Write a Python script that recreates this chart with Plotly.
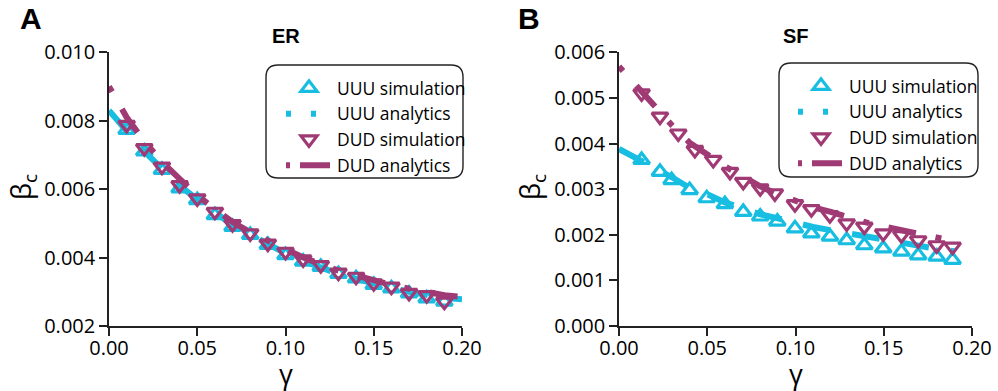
import plotly.graph_objects as go

# ---------------- data ----------------
# Panel A (ER)
gamma_sim_A = [0.01, 0.02, 0.03, 0.04, 0.05, 0.06, 0.07, 0.08, 0.09, 0.10,
               0.11, 0.12, 0.13, 0.14, 0.15, 0.16, 0.17, 0.18, 0.19]
uuu_sim_A = [0.00773, 0.00710, 0.00656, 0.00602, 0.00568, 0.00524, 0.00490, 0.00466, 0.00437, 0.00407,
             0.00388, 0.00373, 0.00352, 0.00339, 0.00320, 0.00310, 0.00295, 0.00281, 0.00271]
dud_sim_A = [0.00788, 0.00720, 0.00666, 0.00612, 0.00573, 0.00534, 0.00498, 0.00471, 0.00441, 0.00417,
             0.00395, 0.00378, 0.00356, 0.00344, 0.00325, 0.00315, 0.00297, 0.00290, 0.00271]
gamma_ana_A = [0.00, 0.01, 0.02, 0.03, 0.04, 0.05, 0.06, 0.07, 0.08, 0.09, 0.10,
               0.11, 0.12, 0.13, 0.14, 0.15, 0.16, 0.17, 0.18, 0.19, 0.20]
uuu_ana_A = [0.00830, 0.00770, 0.00710, 0.00660, 0.00610, 0.00570, 0.00530, 0.00495, 0.00468, 0.00440, 0.00412,
             0.00390, 0.00370, 0.00352, 0.00338, 0.00323, 0.00311, 0.00300, 0.00290, 0.00282, 0.00278]
dud_ana_A = [0.00900, 0.00810, 0.00740, 0.00680, 0.00630, 0.00582, 0.00542, 0.00504, 0.00474, 0.00448, 0.00422,
             0.00400, 0.00381, 0.00362, 0.00348, 0.00332, 0.00320, 0.00309, 0.00298, 0.00290, 0.00285]

# Panel B (SF)
gamma_uuu_B = [0.0128, 0.0232, 0.0298, 0.040, 0.0497, 0.060, 0.0704, 0.080, 0.0897, 0.0997,
               0.109, 0.1195, 0.129, 0.139, 0.1497, 0.160, 0.1695, 0.180, 0.189]
uuu_sim_B = [0.00364, 0.00338, 0.00320, 0.00298, 0.00280, 0.00267, 0.00250, 0.00240, 0.00229, 0.00214,
             0.00203, 0.00196, 0.00188, 0.00177, 0.00170, 0.00163, 0.00155, 0.00152, 0.00145]
gamma_dud_B = [0.0128, 0.0232, 0.0336, 0.043, 0.0534, 0.0629, 0.0704, 0.080, 0.0883, 0.0997,
               0.109, 0.1195, 0.129, 0.139, 0.1497, 0.160, 0.1695, 0.180, 0.189]
dud_sim_B = [0.00510, 0.00459, 0.00422, 0.00386, 0.00364, 0.00338, 0.00316, 0.00302, 0.00291, 0.00267,
             0.00256, 0.00243, 0.00225, 0.00218, 0.00203, 0.00199, 0.00188, 0.00177, 0.00174]
gamma_ana_B = [0.00, 0.01, 0.02, 0.03, 0.04, 0.05, 0.06, 0.07, 0.08, 0.09, 0.10,
               0.11, 0.12, 0.13, 0.14, 0.15, 0.16, 0.17, 0.18, 0.19]
uuu_ana_B = [0.00388, 0.00368, 0.00348, 0.00326, 0.00303, 0.00289, 0.00271, 0.00257, 0.00245, 0.00236, 0.00226,
             0.00217, 0.00210, 0.00203, 0.00194, 0.00187, 0.00180, 0.00174, 0.00169, 0.00164]
dud_ana_B = [0.00569, 0.00525, 0.00480, 0.00440, 0.00402, 0.00375, 0.00350, 0.00328, 0.00306, 0.00289, 0.00274,
             0.00260, 0.00250, 0.00238, 0.00227, 0.00218, 0.00209, 0.00202, 0.00194, 0.00187]

series_names = ["UUU simulation", "UUU analytics", "DUD simulation", "DUD analytics"]
panel_titles = ["ER", "SF"]
panel_letters = ["A", "B"]
x_ticks = [0.00, 0.05, 0.10, 0.15, 0.20]
y_ticks_A = [0.002, 0.004, 0.006, 0.008, 0.010]
y_ticks_B = [0.000, 0.001, 0.002, 0.003, 0.004, 0.005, 0.006]

# ---------------- style ----------------
CYAN = "#17BEE1"
MAG = "#A03A74"
FONT = "Open Sans"
W, H = 998, 391
dom_xA = [109 / W, 462 / W]
dom_xB = [619 / W, 972 / W]
dom_y = [1 - 326 / H, 1 - 52.3 / H]

fig = go.Figure()


def add_panel(xa, ya, leg, gs_u, ys_u, gs_d, ys_d, ga, ua, da):
    fig.add_trace(go.Scatter(x=gs_u, y=ys_u, mode="markers", name=series_names[0],
                             marker=dict(symbol="triangle-up-open", size=14, color=CYAN,
                                         line=dict(width=3.2, color=CYAN)),
                             xaxis=xa, yaxis=ya, legend=leg, cliponaxis=False))
    # legend sample for analytics (no data)
    fig.add_trace(go.Scatter(x=[None], y=[None], mode="lines", name=series_names[1],
                             line=dict(color=CYAN, width=6, dash="5px,20px"),
                             xaxis=xa, yaxis=ya, legend=leg))
    fig.add_trace(go.Scatter(x=ga, y=ua, mode="lines", showlegend=False,
                             line=dict(color=CYAN, width=6, dash="28px,22px"),
                             xaxis=xa, yaxis=ya, cliponaxis=False))
    fig.add_trace(go.Scatter(x=gs_d, y=ys_d, mode="markers", name=series_names[2],
                             marker=dict(symbol="triangle-down-open", size=14, color=MAG,
                                         line=dict(width=3.2, color=MAG)),
                             xaxis=xa, yaxis=ya, legend=leg, cliponaxis=False))
    fig.add_trace(go.Scatter(x=[None], y=[None], mode="lines", name=series_names[3],
                             line=dict(color=MAG, width=6, dash="4px,10px,30px"),
                             xaxis=xa, yaxis=ya, legend=leg))
    fig.add_trace(go.Scatter(x=ga, y=da, mode="lines", showlegend=False,
                             line=dict(color=MAG, width=6, dash="6px,20px,28px,20px"),
                             xaxis=xa, yaxis=ya, cliponaxis=False))


add_panel("x", "y", "legend", gamma_sim_A, uuu_sim_A, gamma_sim_A, dud_sim_A,
          gamma_ana_A, uuu_ana_A, dud_ana_A)
add_panel("x2", "y2", "legend2", gamma_uuu_B, uuu_sim_B, gamma_dud_B, dud_sim_B,
          gamma_ana_B, uuu_ana_B, dud_ana_B)

axis_common = dict(showline=True, linecolor="#222", linewidth=1.6, ticks="outside",
                   ticklen=8, tickwidth=1.6, tickcolor="#222", showgrid=False,
                   zeroline=False, automargin=False,
                   tickfont=dict(family=FONT, size=20, color="black"))

legend_common = dict(xanchor="left", yanchor="top", bgcolor="rgba(0,0,0,0)", borderwidth=0,
                     itemwidth=46, font=dict(family=FONT, size=17.5, color="black"),
                     tracegroupgap=0)

fig.update_layout(
    width=W, height=H, margin=dict(l=0, r=0, t=0, b=0, pad=0, autoexpand=False),
    paper_bgcolor="white", plot_bgcolor="white",
    font=dict(family=FONT, color="black"),
    xaxis=dict(domain=dom_xA, range=[0, 0.2], tickvals=x_ticks, tickformat=".2f",
               anchor="y", ticklabelstandoff=-5, **axis_common),
    yaxis=dict(domain=dom_y, range=[0.002, 0.010], tickvals=y_ticks_A, tickformat=".3f",
               anchor="x", **axis_common),
    xaxis2=dict(domain=dom_xB, range=[0, 0.2], tickvals=x_ticks, tickformat=".2f",
                anchor="y2", ticklabelstandoff=-5, **axis_common),
    yaxis2=dict(domain=dom_y, range=[0.0, 0.006], tickvals=y_ticks_B, tickformat=".3f",
                anchor="x2", **axis_common),
    legend=dict(x=281 / W, y=1 - 70 / H, **legend_common),
    legend2=dict(x=793 / W, y=1 - 68 / H, **legend_common),
)


def rounded_box(x0, y0, x1, y1, r):
    # paper coords from pixel box
    def px(x):
        return x / W

    def py(y):
        return 1 - y / H
    return (f"M {px(x0 + r)},{py(y0)} L {px(x1 - r)},{py(y0)} "
            f"Q {px(x1)},{py(y0)} {px(x1)},{py(y0 + r)} L {px(x1)},{py(y1 - r)} "
            f"Q {px(x1)},{py(y1)} {px(x1 - r)},{py(y1)} L {px(x0 + r)},{py(y1)} "
            f"Q {px(x0)},{py(y1)} {px(x0)},{py(y1 - r)} L {px(x0)},{py(y0 + r)} "
            f"Q {px(x0)},{py(y0)} {px(x0 + r)},{py(y0)} Z")


fig.add_shape(type="path", xref="paper", yref="paper", path=rounded_box(266, 65, 463, 178, 12),
              line=dict(color="#222", width=1.4), fillcolor="white", layer="above")
fig.add_shape(type="path", xref="paper", yref="paper", path=rounded_box(779, 63, 978, 177, 12),
              line=dict(color="#222", width=1.4), fillcolor="white", layer="above")


def label(text, xpx, ypx, size, family=FONT, angle=0):
    fig.add_annotation(text=text, x=xpx / W, y=1 - ypx / H, xref="paper", yref="paper",
                       xanchor="center", yanchor="middle", showarrow=False, textangle=angle,
                       font=dict(family=family, size=size, color="black"))


# panel letters, titles, axis titles
for letter, lx in zip(panel_letters, [31, 529]):
    label(f"<b>{letter}</b>", lx, 19, 30, "Liberation Sans")
for title, cx in zip(panel_titles, [285.5, 795.5]):
    label(f"<b>{title}</b>", cx, 36, 20, "Liberation Sans")
for cx in [285.5, 795.5]:
    label("γ", cx, 373.5, 27)
for cx in [22, 531]:
    label("β<sub>c</sub>", cx, 187, 27, angle=-90)

fig.write_html("out.html")
